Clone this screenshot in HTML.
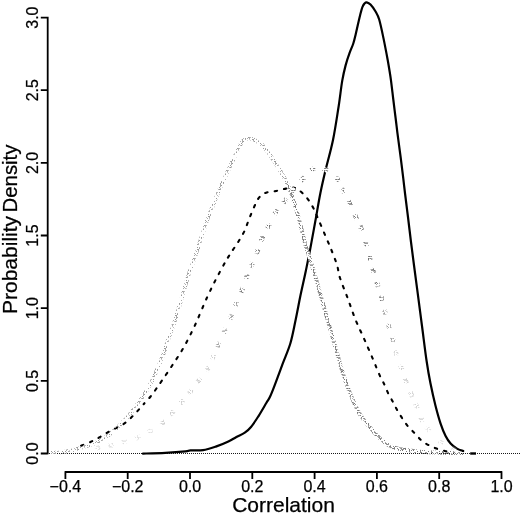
<!DOCTYPE html>
<html lang="en"><head><meta charset="utf-8"><title>Correlation probability density</title>
<style>html,body{margin:0;padding:0;background:#fff}svg{display:block;filter:blur(0.35px)}text{font-family:"Liberation Sans",Arial,Helvetica,sans-serif}</style></head>
<body>
<svg width="520" height="515" viewBox="0 0 520 515">
<defs><pattern id="st" width="11" height="11" patternUnits="userSpaceOnUse"><rect width="11" height="11" fill="#fff"/><rect x="0" y="0" width="1" height="1" fill="#999"/><rect x="1" y="0" width="1" height="1" fill="#888"/><rect x="2" y="0" width="1" height="1" fill="#bbb"/><rect x="3" y="0" width="1" height="1" fill="#bbb"/><rect x="4" y="0" width="1" height="1" fill="#bbb"/><rect x="5" y="0" width="1" height="1" fill="#888"/><rect x="6" y="0" width="1" height="1" fill="#888"/><rect x="7" y="0" width="1" height="1" fill="#bbb"/><rect x="8" y="0" width="1" height="1" fill="#bbb"/><rect x="9" y="0" width="1" height="1" fill="#999"/><rect x="1" y="1" width="1" height="1" fill="#bbb"/><rect x="2" y="1" width="1" height="1" fill="#999"/><rect x="3" y="1" width="1" height="1" fill="#999"/><rect x="4" y="1" width="1" height="1" fill="#999"/><rect x="9" y="1" width="1" height="1" fill="#bbb"/><rect x="0" y="2" width="1" height="1" fill="#bbb"/><rect x="9" y="2" width="1" height="1" fill="#999"/><rect x="1" y="3" width="1" height="1" fill="#bbb"/><rect x="2" y="3" width="1" height="1" fill="#777"/><rect x="5" y="3" width="1" height="1" fill="#888"/><rect x="6" y="3" width="1" height="1" fill="#777"/><rect x="7" y="3" width="1" height="1" fill="#aaa"/><rect x="8" y="3" width="1" height="1" fill="#777"/><rect x="9" y="3" width="1" height="1" fill="#888"/><rect x="2" y="4" width="1" height="1" fill="#aaa"/><rect x="10" y="4" width="1" height="1" fill="#aaa"/><rect x="3" y="5" width="1" height="1" fill="#777"/><rect x="5" y="5" width="1" height="1" fill="#777"/><rect x="6" y="5" width="1" height="1" fill="#bbb"/><rect x="7" y="5" width="1" height="1" fill="#888"/><rect x="8" y="5" width="1" height="1" fill="#aaa"/><rect x="9" y="5" width="1" height="1" fill="#999"/><rect x="10" y="5" width="1" height="1" fill="#777"/><rect x="0" y="6" width="1" height="1" fill="#777"/><rect x="1" y="6" width="1" height="1" fill="#aaa"/><rect x="5" y="6" width="1" height="1" fill="#777"/><rect x="8" y="6" width="1" height="1" fill="#999"/><rect x="9" y="6" width="1" height="1" fill="#999"/><rect x="10" y="6" width="1" height="1" fill="#999"/><rect x="0" y="7" width="1" height="1" fill="#bbb"/><rect x="1" y="7" width="1" height="1" fill="#aaa"/><rect x="2" y="7" width="1" height="1" fill="#777"/><rect x="5" y="7" width="1" height="1" fill="#999"/><rect x="10" y="7" width="1" height="1" fill="#bbb"/><rect x="0" y="8" width="1" height="1" fill="#777"/><rect x="1" y="8" width="1" height="1" fill="#777"/><rect x="3" y="8" width="1" height="1" fill="#888"/><rect x="5" y="8" width="1" height="1" fill="#888"/><rect x="6" y="8" width="1" height="1" fill="#888"/><rect x="7" y="8" width="1" height="1" fill="#bbb"/><rect x="8" y="8" width="1" height="1" fill="#888"/><rect x="0" y="9" width="1" height="1" fill="#999"/><rect x="2" y="9" width="1" height="1" fill="#aaa"/><rect x="6" y="9" width="1" height="1" fill="#777"/><rect x="10" y="9" width="1" height="1" fill="#888"/><rect x="5" y="10" width="1" height="1" fill="#bbb"/><rect x="6" y="10" width="1" height="1" fill="#bbb"/><rect x="9" y="10" width="1" height="1" fill="#888"/></pattern><pattern id="st2" width="11" height="11" patternUnits="userSpaceOnUse"><rect x="2" y="0" width="1" height="1" fill="#aaa"/><rect x="3" y="0" width="1" height="1" fill="#bbb"/><rect x="7" y="0" width="1" height="1" fill="#999"/><rect x="10" y="0" width="1" height="1" fill="#999"/><rect x="0" y="1" width="1" height="1" fill="#bbb"/><rect x="8" y="1" width="1" height="1" fill="#aaa"/><rect x="0" y="2" width="1" height="1" fill="#aaa"/><rect x="7" y="2" width="1" height="1" fill="#aaa"/><rect x="9" y="2" width="1" height="1" fill="#bbb"/><rect x="10" y="2" width="1" height="1" fill="#999"/><rect x="5" y="3" width="1" height="1" fill="#aaa"/><rect x="1" y="5" width="1" height="1" fill="#aaa"/><rect x="6" y="5" width="1" height="1" fill="#999"/><rect x="7" y="5" width="1" height="1" fill="#aaa"/><rect x="8" y="5" width="1" height="1" fill="#bbb"/><rect x="10" y="5" width="1" height="1" fill="#999"/><rect x="1" y="6" width="1" height="1" fill="#999"/><rect x="3" y="6" width="1" height="1" fill="#999"/><rect x="5" y="6" width="1" height="1" fill="#aaa"/><rect x="7" y="6" width="1" height="1" fill="#aaa"/><rect x="0" y="7" width="1" height="1" fill="#999"/><rect x="3" y="7" width="1" height="1" fill="#aaa"/><rect x="7" y="7" width="1" height="1" fill="#ccc"/><rect x="10" y="7" width="1" height="1" fill="#999"/><rect x="0" y="8" width="1" height="1" fill="#aaa"/><rect x="5" y="8" width="1" height="1" fill="#ccc"/><rect x="8" y="8" width="1" height="1" fill="#bbb"/><rect x="0" y="9" width="1" height="1" fill="#aaa"/><rect x="1" y="9" width="1" height="1" fill="#999"/><rect x="5" y="9" width="1" height="1" fill="#999"/><rect x="9" y="9" width="1" height="1" fill="#aaa"/><rect x="0" y="10" width="1" height="1" fill="#aaa"/><rect x="3" y="10" width="1" height="1" fill="#ccc"/></pattern><pattern id="st3" width="11" height="11" patternUnits="userSpaceOnUse"><rect x="2" y="0" width="1" height="1" fill="#888"/><rect x="10" y="0" width="1" height="1" fill="#777"/><rect x="2" y="1" width="1" height="1" fill="#888"/><rect x="3" y="1" width="1" height="1" fill="#888"/><rect x="7" y="1" width="1" height="1" fill="#aaa"/><rect x="8" y="1" width="1" height="1" fill="#999"/><rect x="0" y="2" width="1" height="1" fill="#aaa"/><rect x="4" y="2" width="1" height="1" fill="#888"/><rect x="6" y="2" width="1" height="1" fill="#777"/><rect x="8" y="2" width="1" height="1" fill="#999"/><rect x="0" y="3" width="1" height="1" fill="#888"/><rect x="1" y="3" width="1" height="1" fill="#999"/><rect x="3" y="3" width="1" height="1" fill="#888"/><rect x="5" y="3" width="1" height="1" fill="#888"/><rect x="9" y="3" width="1" height="1" fill="#888"/><rect x="1" y="4" width="1" height="1" fill="#999"/><rect x="2" y="4" width="1" height="1" fill="#888"/><rect x="3" y="4" width="1" height="1" fill="#999"/><rect x="7" y="4" width="1" height="1" fill="#777"/><rect x="9" y="4" width="1" height="1" fill="#888"/><rect x="5" y="5" width="1" height="1" fill="#aaa"/><rect x="10" y="5" width="1" height="1" fill="#aaa"/><rect x="0" y="6" width="1" height="1" fill="#888"/><rect x="1" y="6" width="1" height="1" fill="#777"/><rect x="2" y="6" width="1" height="1" fill="#888"/><rect x="4" y="6" width="1" height="1" fill="#888"/><rect x="5" y="6" width="1" height="1" fill="#777"/><rect x="8" y="6" width="1" height="1" fill="#888"/><rect x="10" y="6" width="1" height="1" fill="#777"/><rect x="3" y="7" width="1" height="1" fill="#aaa"/><rect x="4" y="7" width="1" height="1" fill="#aaa"/><rect x="5" y="7" width="1" height="1" fill="#999"/><rect x="6" y="7" width="1" height="1" fill="#999"/><rect x="9" y="7" width="1" height="1" fill="#888"/><rect x="1" y="8" width="1" height="1" fill="#888"/><rect x="4" y="8" width="1" height="1" fill="#aaa"/><rect x="5" y="8" width="1" height="1" fill="#888"/><rect x="7" y="8" width="1" height="1" fill="#888"/><rect x="8" y="8" width="1" height="1" fill="#777"/><rect x="9" y="8" width="1" height="1" fill="#777"/><rect x="2" y="9" width="1" height="1" fill="#777"/><rect x="5" y="9" width="1" height="1" fill="#999"/><rect x="6" y="9" width="1" height="1" fill="#888"/><rect x="7" y="9" width="1" height="1" fill="#999"/><rect x="9" y="9" width="1" height="1" fill="#777"/><rect x="2" y="10" width="1" height="1" fill="#777"/><rect x="4" y="10" width="1" height="1" fill="#888"/><rect x="6" y="10" width="1" height="1" fill="#777"/></pattern></defs>
<rect width="520" height="515" fill="#fff"/>
<path d="M49 453.5H520" stroke="#000" stroke-width="1" stroke-dasharray="1 1" fill="none" opacity="0.9"/>
<g stroke="#000" stroke-width="2.1" stroke-dasharray="2.5 7" stroke-linecap="round" fill="none"><path d="M80.5 446.0C80.8 445.9 80.7 446.0 82.4 445.3C84.1 444.6 88.1 443.1 90.9 441.8C93.7 440.5 96.5 439.0 99.2 437.5C101.9 436.0 104.6 434.1 107.3 432.6C110.0 431.1 112.6 429.9 115.4 428.4C118.2 426.9 121.5 425.4 124.1 423.6C126.7 421.9 128.7 420.0 130.9 417.9C133.2 415.8 135.5 413.2 137.6 410.9C139.7 408.6 141.5 406.6 143.6 404.2" stroke-dashoffset="8.75"/><path d="M143.6 404.2C145.7 401.8 148.3 399.2 150.4 396.7C152.5 394.2 154.2 391.7 156.1 389.0C158.0 386.3 159.3 384.5 162.0 380.5C164.7 376.5 168.9 370.6 172.5 365.0C176.1 359.4 180.0 353.9 183.8 347.2C187.6 340.4 191.5 332.7 195.3 324.5C199.1 316.3 203.2 305.8 206.8 298.0C210.4 290.2 213.4 284.1 216.7 277.8C220.0 271.5 223.7 264.8 226.5 260.0" stroke-dashoffset="1.12"/><path d="M226.5 260.0C229.3 255.2 231.2 252.6 233.3 249.3C235.5 246.0 237.5 243.1 239.4 240.0C241.3 236.9 243.0 234.2 244.5 231.0C246.0 227.8 247.1 224.2 248.3 221.0C249.6 217.8 250.7 215.0 252.0 212.0C253.3 209.0 254.7 205.5 256.0 203.0C257.3 200.5 257.9 198.7 259.6 197.0C261.3 195.3 263.3 193.7 266.0 192.7C268.7 191.7 272.7 191.7 276.0 191.0C279.3 190.3 282.8 189.1 286.0 188.6C289.2 188.1 291.8 186.8 295.0 188.0" stroke-dashoffset="7.05"/><path d="M295.0 188.0C298.2 189.2 302.0 192.4 305.0 195.6C308.0 198.8 310.7 203.2 312.8 207.0C314.9 210.8 315.8 213.5 317.9 218.3C320.0 223.1 323.2 230.6 325.5 236.0C327.8 241.4 329.9 246.2 331.8 251.0C333.7 255.8 335.6 260.5 337.0 265.0C338.4 269.5 338.2 272.5 340.0 278.0C341.8 283.5 345.1 291.3 347.6 298.0C350.1 304.7 352.3 311.6 355.0 318.4C357.7 325.2 361.0 331.9 364.0 338.6C367.0 345.3 370.2 352.8 372.8 358.8" stroke-dashoffset="2.80"/><path d="M372.8 358.8C375.4 364.9 377.6 370.6 379.5 374.9C381.4 379.2 383.0 381.6 384.4 384.6C385.8 387.6 386.6 390.1 388.0 393.0C389.4 395.9 391.5 399.2 393.0 402.0C394.5 404.8 395.5 407.2 397.0 409.8C398.5 412.4 400.0 414.9 401.8 417.6C403.6 420.3 405.6 423.4 407.7 426.0C409.8 428.6 412.3 430.7 414.5 433.0C416.7 435.3 418.8 438.0 421.0 440.0C423.2 442.0 425.4 443.4 428.0 444.8C430.6 446.2 433.6 447.5 436.5 448.6C439.4 449.7 443.2 450.6 445.6 451.2C448.0 451.8 450.1 452.0 451.0 452.2" stroke-dashoffset="2.78"/></g>
<path d="M143.0 453.6C146.7 453.5 158.2 453.3 165.3 452.9C172.4 452.5 181.3 451.8 185.5 451.4C189.7 451.0 187.6 450.6 190.5 450.4C193.4 450.2 198.8 450.7 203.0 450.1C207.2 449.5 211.6 448.0 215.8 446.6C220.0 445.2 225.0 443.1 228.4 441.5C231.8 439.9 233.3 438.7 236.0 437.2C238.7 435.7 242.3 434.4 244.8 432.7C247.3 431.0 248.7 429.8 251.0 427.0C253.3 424.2 256.1 419.8 258.7 415.8C261.2 411.8 264.4 406.2 266.3 403.0C268.2 399.8 268.5 400.0 270.0 396.8C271.5 393.6 273.2 389.2 275.3 383.6C277.4 378.0 280.3 370.1 282.8 363.4C285.3 356.7 288.3 350.3 290.4 343.2C292.5 336.1 293.8 328.5 295.5 320.5C297.2 312.5 298.8 303.6 300.5 295.3C302.2 287.1 304.2 278.8 305.8 271.0C307.4 263.2 308.7 257.0 310.3 248.6C311.9 240.2 313.7 230.1 315.4 220.8C317.1 211.5 318.7 201.4 320.4 193.0C322.1 184.6 323.4 179.1 325.5 170.3C327.6 161.5 330.8 150.7 333.0 140.0C335.2 129.3 337.1 115.9 338.7 106.0C340.2 96.1 341.1 87.2 342.3 80.4C343.5 73.6 344.4 70.0 345.6 65.4C346.8 60.8 348.3 56.5 349.6 52.9C350.9 49.2 352.3 46.6 353.3 43.5C354.3 40.4 354.9 37.6 355.7 34.2C356.5 30.8 357.4 26.7 358.2 23.3C359.0 19.9 359.7 16.8 360.4 14.0C361.1 11.2 361.8 8.5 362.5 6.8C363.2 5.1 363.7 4.3 364.4 3.6C365.1 2.9 365.7 2.2 366.7 2.4C367.7 2.6 369.1 3.1 370.5 4.6C371.9 6.1 373.9 8.7 375.4 11.2C376.8 13.7 377.9 15.1 379.2 19.5C380.5 23.9 382.0 31.1 383.4 37.9C384.8 44.6 386.4 53.0 387.7 60.0C388.9 67.0 390.0 73.2 390.9 79.8C391.8 86.4 392.5 93.1 393.3 99.5C394.1 105.9 394.8 111.8 395.6 118.0C396.4 124.2 397.0 130.1 397.9 136.7C398.8 143.3 399.8 150.7 400.7 157.7C401.6 164.7 402.6 172.5 403.3 178.6C404.0 184.7 404.3 187.4 405.1 194.0C405.9 200.6 407.1 210.0 408.1 218.0C409.1 226.0 410.0 234.0 411.0 242.0C412.0 250.0 413.1 258.2 414.1 266.0C415.1 273.8 415.8 278.6 417.1 288.6C418.4 298.6 420.4 313.9 422.0 326.0C423.6 338.1 425.2 351.5 426.6 361.0C428.0 370.5 428.9 375.6 430.4 383.0C431.9 390.4 433.8 399.0 435.5 405.7C437.2 412.4 438.8 418.2 440.5 423.3C442.2 428.4 443.9 432.6 445.6 436.0C447.3 439.4 448.7 441.4 450.6 443.5C452.5 445.6 454.9 447.4 457.0 448.6C459.1 449.9 462.2 450.6 463.2 451.0" stroke="#000" stroke-width="2.2" fill="none" stroke-linejoin="round" stroke-linecap="round"/>
<path d="M470.2 453.5H476" stroke="#000" stroke-width="2.4" fill="none"/>
<path d="M50.0 452.8C51.7 452.7 56.4 452.7 60.0 452.3C63.6 451.9 67.3 451.3 71.5 450.3C75.7 449.3 80.5 448.0 85.0 446.5C89.5 445.0 94.3 443.6 98.5 441.5C102.7 439.4 105.5 437.7 110.0 434.0C114.5 430.3 121.0 423.9 125.2 419.5C129.4 415.1 131.8 411.7 135.0 407.4C138.2 403.1 141.8 398.3 144.7 393.8C147.6 389.3 150.1 384.7 152.4 380.2C154.7 375.7 156.4 371.1 158.3 366.6C160.2 362.1 162.2 357.4 163.8 353.0C165.4 348.6 166.3 345.0 168.0 340.0C169.7 335.0 171.9 330.0 174.2 323.0C176.5 316.0 179.2 306.4 181.7 298.0C184.2 289.6 186.7 280.6 189.3 272.7C191.9 264.8 194.3 258.9 197.2 250.5C200.0 242.1 203.8 229.3 206.4 222.0C209.0 214.7 210.5 211.6 212.5 206.6C214.5 201.6 216.3 197.0 218.4 192.0C220.5 187.0 223.0 181.5 225.3 176.5C227.6 171.5 230.0 166.3 232.1 161.9C234.2 157.5 236.0 153.5 237.7 150.2C239.4 146.8 240.7 143.7 242.2 141.8C243.7 139.9 244.8 139.5 246.5 139.0C248.2 138.5 250.5 138.6 252.3 139.0C254.1 139.4 255.5 140.6 257.1 141.5C258.7 142.4 260.1 142.7 262.0 144.6C263.9 146.5 265.7 148.9 268.5 152.8C271.3 156.7 275.5 162.8 278.6 168.0C281.8 173.2 284.9 178.5 287.4 184.0" stroke="url(#st2)" stroke-width="3.8" fill="none"/>
<path d="M287.4 184.0C289.9 189.5 291.8 195.1 293.7 200.8C295.6 206.5 296.8 210.9 298.8 218.4" stroke="url(#st3)" stroke-width="3.8" fill="none"/>
<path d="M298.8 218.4C300.8 225.9 303.5 237.7 305.8 246.0C308.1 254.3 309.7 257.7 312.8 268.0C315.9 278.3 320.6 295.4 324.2 307.9C327.8 320.4 331.2 332.5 334.3 343.2C337.4 353.9 339.9 363.6 342.5 372.0C345.1 380.4 347.2 386.5 350.0 393.3C352.8 400.1 355.9 407.2 359.0 412.7C362.1 418.2 365.6 422.2 368.8 426.3" stroke="url(#st)" stroke-width="3.8" fill="none"/>
<path d="M368.8 426.3C372.1 430.4 375.3 433.9 378.5 437.0C381.7 440.1 384.8 442.9 388.0 444.8C391.2 446.7 394.1 447.6 398.0 448.6C401.9 449.6 407.3 450.0 411.5 450.6C415.7 451.2 418.8 451.7 423.0 452.0C427.2 452.3 432.5 452.4 437.0 452.6C441.5 452.8 445.7 452.9 450.0 453.0C454.3 453.1 460.8 453.2 463.0 453.2" stroke="url(#st3)" stroke-width="3.8" fill="none"/>
<path d="M94.9 448.5L100.1 447.5M108.5 446.1L113.5 444.9M121.9 442.2L126.9 440.8M135.5 438.7L140.3 436.7M148.2 432.3L152.6 429.7M426.3 427.0L429.7 431.0M439.0 440.7L443.0 443.9M451.7 448.1L456.3 450.5" stroke="url(#st)" stroke-width="4.6" fill="none" opacity="0.24"/><path d="M161.0 424.5L165.0 421.1M170.3 414.9L173.7 411.1M180.0 404.0L183.4 400.0M188.9 393.8L192.1 389.8M197.4 382.5L200.6 378.3M206.4 371.2L209.0 366.8M212.0 359.4L214.0 354.6M395.3 350.5L396.7 355.5M400.3 364.8L402.1 369.8M404.9 378.4L406.7 383.2M410.3 392.0L412.3 396.8M415.5 403.6L417.5 408.4M420.5 417.1L422.9 421.7" stroke="url(#st)" stroke-width="4.6" fill="none" opacity="0.36"/><path d="M217.3 347.1L219.5 342.3M223.6 333.2L225.8 328.4M230.0 319.4L232.0 314.6M235.0 306.4L237.0 301.6M384.4 309.5L385.6 314.5M388.0 323.5L389.4 328.5M392.3 337.3L393.7 342.3" stroke="url(#st)" stroke-width="4.6" fill="none" opacity="0.7"/><path d="M241.1 292.4L242.9 287.6M245.8 278.9L247.6 274.1M250.7 267.4L252.7 262.6M256.4 253.9L258.2 249.1M261.0 241.0L263.0 236.2M267.3 228.3L269.7 223.7M274.6 214.2L277.4 209.8M283.4 202.9L286.6 198.7M291.4 192.0L294.6 188.0M300.9 180.9L304.5 177.1M310.4 170.0L315.2 168.0M323.1 168.8L327.9 170.8M335.9 177.0L339.3 181.0M341.8 188.2L344.2 192.8M348.9 200.7L351.1 205.3M354.8 214.6L356.8 219.4M360.1 225.6L361.9 230.4M365.3 241.2L366.7 246.2M369.0 255.1L370.4 260.1M372.6 267.9L374.0 272.9M376.6 281.8L378.2 286.8M381.0 295.7L382.4 300.7" stroke="url(#st)" stroke-width="4.6" fill="none" opacity="1.0"/>
<path d="M47.7 16.8V454.3M40.8 453.5H47.7M40.8 380.9H47.7M40.8 308.2H47.7M40.8 235.5H47.7M40.8 162.9H47.7M40.8 90.2H47.7M40.8 17.6H47.7M64.6 472H502.3M65.4 472V479M127.7 472V479M190.0 472V479M252.3 472V479M314.6 472V479M376.9 472V479M439.2 472V479M501.5 472V479" stroke="#000" stroke-width="1.8" fill="none"/>
<g fill="#000" stroke="#000" stroke-width="0.25" stroke-linejoin="round">
<g font-size="16" text-anchor="middle">
<text x="65.4" y="492.0">−0.4</text>
<text x="127.7" y="492.0">−0.2</text>
<text x="190.0" y="492.0">0.0</text>
<text x="252.3" y="492.0">0.2</text>
<text x="314.6" y="492.0">0.4</text>
<text x="376.9" y="492.0">0.6</text>
<text x="439.2" y="492.0">0.8</text>
<text x="501.5" y="492.0">1.0</text>
<text transform="translate(38 453.5) rotate(-90)">0.0</text>
<text transform="translate(38 380.9) rotate(-90)">0.5</text>
<text transform="translate(38 308.2) rotate(-90)">1.0</text>
<text transform="translate(38 235.5) rotate(-90)">1.5</text>
<text transform="translate(38 162.9) rotate(-90)">2.0</text>
<text transform="translate(38 90.2) rotate(-90)">2.5</text>
<text transform="translate(38 17.6) rotate(-90)">3.0</text>
</g>
<g font-size="21" text-anchor="middle">
<text x="283.5" y="512">Correlation</text>
<text transform="translate(16.5 314) rotate(-90)" text-anchor="start" word-spacing="-2.4">Probability <tspan textLength="68" lengthAdjust="spacingAndGlyphs">Density</tspan></text>
</g></g></svg>
</body></html>
